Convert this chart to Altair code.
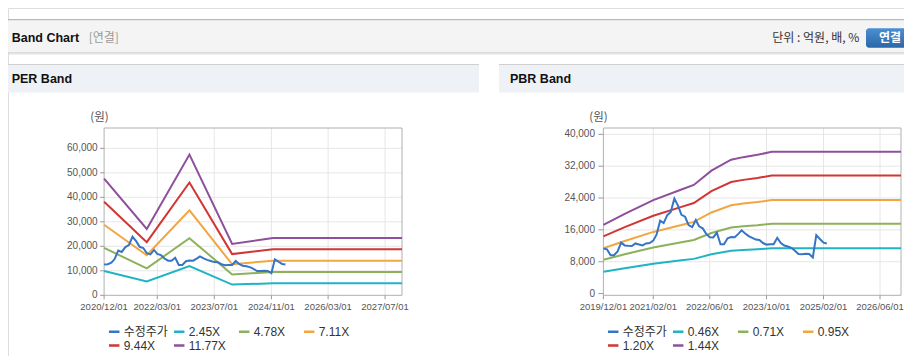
import altair as alt
import pandas as pd

# ---------------- data ----------------
PRICE_NAME = "수정주가"

# monthly adjusted price, 2019-12 .. 2025-03
price_values = [11320, 11100, 9640, 9640, 10600, 12800, 12100, 12000, 11950, 12600,
                12350, 12100, 12600, 12700, 13300, 14800, 18300, 17700, 19700, 20500,
                23900, 22100, 19800, 19300, 17200, 16700, 18500, 16900, 16400, 15000,
                14150, 14100, 15300, 12400, 12400, 13900, 14200, 14150, 15000, 15900,
                15100, 14450, 14000, 13560, 13450, 12700, 12300, 12370, 12400, 14000,
                12700, 12080, 11820, 11500, 10770, 9920, 9900, 10000, 9950, 9060,
                14680, 13700, 12800, 12580]
price_dates = pd.date_range("2019-12-01", periods=len(price_values), freq="MS").strftime("%Y-%m-%d").tolist()

per_knots = ["2020-12-01", "2021-12-01", "2022-12-01", "2023-12-01", "2024-11-15", "2027-11-23"]
per_bands = {
    "2.45X": [9920, 5640, 11960, 4370, 4880, 4880],
    "4.78X": [19360, 10990, 23330, 8520, 9510, 9510],
    "7.11X": [28800, 16350, 34700, 12670, 14150, 14150],
    "9.44X": [38230, 21710, 46070, 16820, 18790, 18790],
    "11.77X": [47670, 27070, 57440, 20970, 23420, 23420],
}

pbr_knots = ["2019-12-01", "2020-06-01", "2021-02-01", "2021-10-01", "2022-01-15", "2022-06-15",
             "2022-12-01", "2023-03-15", "2023-07-15", "2023-11-15", "2026-11-28"]
pbr_bands = {
    "0.46X": [5510, 6390, 7500, 8350, 8720, 9870, 10740, 10950, 11130, 11370, 11370],
    "0.71X": [8510, 9870, 11570, 12890, 13450, 15230, 16580, 16900, 17180, 17550, 17550],
    "0.95X": [11380, 13210, 15490, 17240, 18000, 20380, 22180, 22610, 22990, 23480, 23480],
    "1.20X": [14380, 16680, 19560, 21780, 22740, 25740, 28020, 28560, 29040, 29660, 29660],
    "1.44X": [17250, 20020, 23470, 26140, 27290, 30890, 33620, 34270, 34850, 35600, 35600],
}

per_xticks = ["2020-12-01", "2022-03-01", "2023-07-01", "2024-11-01", "2026-03-01", "2027-07-01"]
pbr_xticks = ["2019-12-01", "2021-02-01", "2022-06-01", "2023-10-01", "2025-02-01", "2026-06-01"]
per_yticks = [0, 10000, 20000, 30000, 40000, 50000, 60000]
pbr_yticks = [0, 8000, 16000, 24000, 32000, 40000]
per_xdomain = ["2020-12-01", "2027-11-23"]
pbr_xdomain = ["2019-12-01", "2026-11-28"]
per_ydomain = [0, 68300]
pbr_ydomain = [-430, 41590]

series_colors = ["#3674c6", "#1fb3c6", "#8db15a", "#f2a641", "#d13534", "#8e4f9c"]

# ---------------- layout constants ----------------
W, H = 896, 348
PLOT_TOP, PLOT_BOT = 120.0, 287.3
PER_X = (96.1, 394.0)
PBR_X = (595.4, 893.0)
AXIS_FONT = "Liberation Sans"
KR_FONT = "Noto Sans CJK KR"
LEGEND_FONT = "Liberation Sans, Noto Sans CJK KR"
GRID = "#e6e6e6"
AXIS_LABEL = "#555555"


def dt(s):
    y, m, d = map(int, s.split("-"))
    return alt.DateTime(year=y, month=m, date=d, utc=True)


def one():
    return alt.InlineData(values=[{}])


def panel(price_df, knots, bands, xdom, ydom, xticks, yticks, xr, legend_x, tick_size, label_gap):
    names = [PRICE_NAME] + list(bands)
    band_df = pd.DataFrame([{"date": d, "series": n, "value": v}
                            for n, vals in bands.items() for d, v in zip(knots, vals)])
    xs = alt.Scale(type="utc", domain=[dt(xdom[0]), dt(xdom[1])], range=list(xr))
    ys = alt.Scale(domain=ydom, range=[PLOT_BOT, PLOT_TOP], nice=False, zero=False)
    cs = alt.Scale(domain=names, range=series_colors)

    xt = pd.DataFrame({"date": xticks, "lab": [s.replace("-", "/") for s in xticks]})
    yt = pd.DataFrame({"v": yticks, "lab": [f"{v:,}" for v in yticks]})

    vgrid = alt.Chart(xt.iloc[1:]).mark_rule(color=GRID, strokeWidth=1).encode(
        x=alt.X("date:T", scale=xs, axis=None),
        y=alt.value(PLOT_TOP), y2=alt.value(PLOT_BOT))
    hgrid = alt.Chart(yt.iloc[1:]).mark_rule(color=GRID, strokeWidth=1).encode(
        y=alt.Y("v:Q", scale=ys, axis=None),
        x=alt.value(xr[0]), x2=alt.value(xr[1]))
    frame = alt.Chart(one()).mark_rect(fillOpacity=0, stroke="#b0b0b0", strokeWidth=1).encode(
        x=alt.value(xr[0]), x2=alt.value(xr[1]), y=alt.value(PLOT_TOP), y2=alt.value(PLOT_BOT))
    xtick = alt.Chart(xt).mark_rule(color="#999999", strokeWidth=1).encode(
        x=alt.X("date:T", scale=xs, axis=None),
        y=alt.value(PLOT_BOT), y2=alt.value(PLOT_BOT + 4))
    xlab = alt.Chart(xt).mark_text(font=AXIS_FONT, fontSize=9.5, color=AXIS_LABEL,
                                   align="center", baseline="middle").encode(
        x=alt.X("date:T", scale=xs, axis=None), y=alt.value(PLOT_BOT + 12), text="lab:N")
    ytick = alt.Chart(yt).mark_rule(color="#999999", strokeWidth=1).encode(
        y=alt.Y("v:Q", scale=ys, axis=None),
        x=alt.value(xr[0] - tick_size), x2=alt.value(xr[0]))
    ylab = alt.Chart(yt).mark_text(font=AXIS_FONT, fontSize=10, color=AXIS_LABEL,
                                   align="right", baseline="middle").encode(
        y=alt.Y("v:Q", scale=ys, axis=None), x=alt.value(xr[0] - label_gap), text="lab:N")

    bands_line = alt.Chart(band_df).mark_line(strokeWidth=2).encode(
        x=alt.X("date:T", scale=xs, axis=None),
        y=alt.Y("value:Q", scale=ys, axis=None),
        color=alt.Color("series:N", scale=cs, legend=alt.Legend(
            title=None, orient="none", legendX=legend_x, legendY=317, direction="horizontal",
            columns=4, symbolType="stroke", symbolStrokeWidth=2.5, symbolSize=110,
            labelFont=LEGEND_FONT, labelFontSize=12, labelColor="#333", gridAlign="all",
            columnPadding=0, rowPadding=1, labelOffset=3, zindex=1)),
    )
    price_line = alt.Chart(price_df).mark_line(strokeWidth=2).encode(
        x=alt.X("date:T", scale=xs, axis=None),
        y=alt.Y("price:Q", scale=ys, axis=None),
        color=alt.Color("series:N", scale=cs, legend=None),
    )
    return alt.layer(vgrid, hgrid, frame, xtick, xlab, ytick, ylab, bands_line, price_line)


price_all = pd.DataFrame({"date": price_dates, "price": price_values, "series": PRICE_NAME})
price_per = price_all[price_all["date"] >= per_xdomain[0]]

per_panel = panel(price_per, per_knots, per_bands, per_xdomain, per_ydomain, per_xticks,
                  per_yticks, PER_X, 99.7, 4, 6.5)
pbr_panel = panel(price_all, pbr_knots, pbr_bands, pbr_xdomain, pbr_ydomain, pbr_xticks,
                  pbr_yticks, PBR_X, 598.7, 5, 8.4)


# ---------------- decorations ----------------
def box(x, x2, y, y2, color):
    return alt.Chart(one()).mark_rect(color=color).encode(
        x=alt.value(x), x2=alt.value(x2), y=alt.value(y), y2=alt.value(y2))


def label(txt, x, y, size=12, weight="normal", color="#111", font=KR_FONT, align="left"):
    return alt.Chart(one()).mark_text(text=txt, align=align, baseline="middle", font=font,
                                      fontSize=size, fontWeight=weight, color=color).encode(
        x=alt.value(x), y=alt.value(y))


button = alt.Chart(one()).mark_rect(
    cornerRadius=3,
    color=alt.LinearGradient(gradient="linear",
                             stops=[alt.GradientStop(color="#4c8fd3", offset=0),
                                    alt.GradientStop(color="#2a67a7", offset=1)],
                             x1=0, x2=0, y1=0, y2=1)).encode(
    x=alt.value(858), x2=alt.value(904), y=alt.value(20.3), y2=alt.value(39.7))

decos = [
    box(0, W, 11, 12.4, "#b8b8b8"),
    box(0, W, 12.4, 44.6, "#f4f4f4"),
    box(0, W, 44.6, 45.6, "#c4c4c4"),
    box(0, W, 45.6, 46.6, "#e4e4e4"),
    label("Band Chart", 3.7, 30.3, 12.5, "bold", "#111", "Liberation Sans"),
    label("[연결]", 80.7, 30.3, 12, "normal", "#999"),
    label("단위 : 억원, 배, %", 851.3, 30.3, 12, "normal", "#333", KR_FONT, "right"),
    button,
    label("연결", 882, 30.0, 12, "bold", "#ffffff", KR_FONT, "center"),
    box(0, 471, 56, 57, "#d0d0d0"),
    box(0, 471, 57, 84.5, "#eef2f7"),
    box(491, W, 56, 57, "#d0d0d0"),
    box(491, W, 57, 84.5, "#eef2f7"),
    label("PER Band", 3.7, 71.3, 12.5, "bold", "#111", "Liberation Sans"),
    label("PBR Band", 502, 71.3, 12.5, "bold", "#111", "Liberation Sans"),
    label("(원)", 91.5, 110, 11.5, "normal", "#555", KR_FONT, "center"),
    label("(원)", 590.5, 110, 11.5, "normal", "#555", KR_FONT, "center"),
]

chart = alt.layer(*decos, per_panel, pbr_panel).resolve_scale(
    x="independent", y="independent", color="independent"
).properties(
    width=W, height=H, autosize=alt.AutoSizeParams(type="none"), padding=0
).configure_view(stroke=None).configure(background="#ffffff")

chart.save("out.html", embed_options={"renderer": "svg", "actions": False})
